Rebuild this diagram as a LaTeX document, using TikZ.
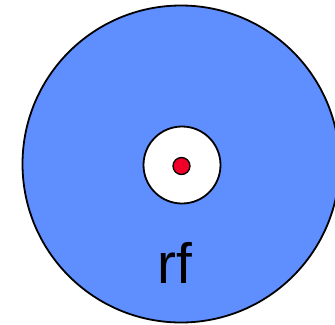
\documentclass[tikz,border=0pt]{standalone}
\usepackage{fontspec}
\setmainfont{Liberation Sans}
\definecolor{discblue}{RGB}{95,142,255}
\definecolor{dotred}{RGB}{240,0,40}
\begin{document}
\begin{tikzpicture}[x=1bp,y=-1bp,
  ring/.style={draw=black,line width=1.8bp},
  label/.style={font=\fontsize{57}{60}\selectfont,inner sep=0pt,anchor=base}]
\useasboundingbox (0,0) rectangle (335,325);
\begin{scope}
\clip (0,0) rectangle (335,325);
\fill[discblue,ring] (181,164) circle (158.5);
\end{scope}
\fill[white,ring] (182,165) circle (38.5);
\fill[dotred,draw=black,line width=1.3bp] (181.5,166) circle (8.5);
\node[label] (rf) at (174.5,283) {rf};
\end{tikzpicture}
\end{document}
